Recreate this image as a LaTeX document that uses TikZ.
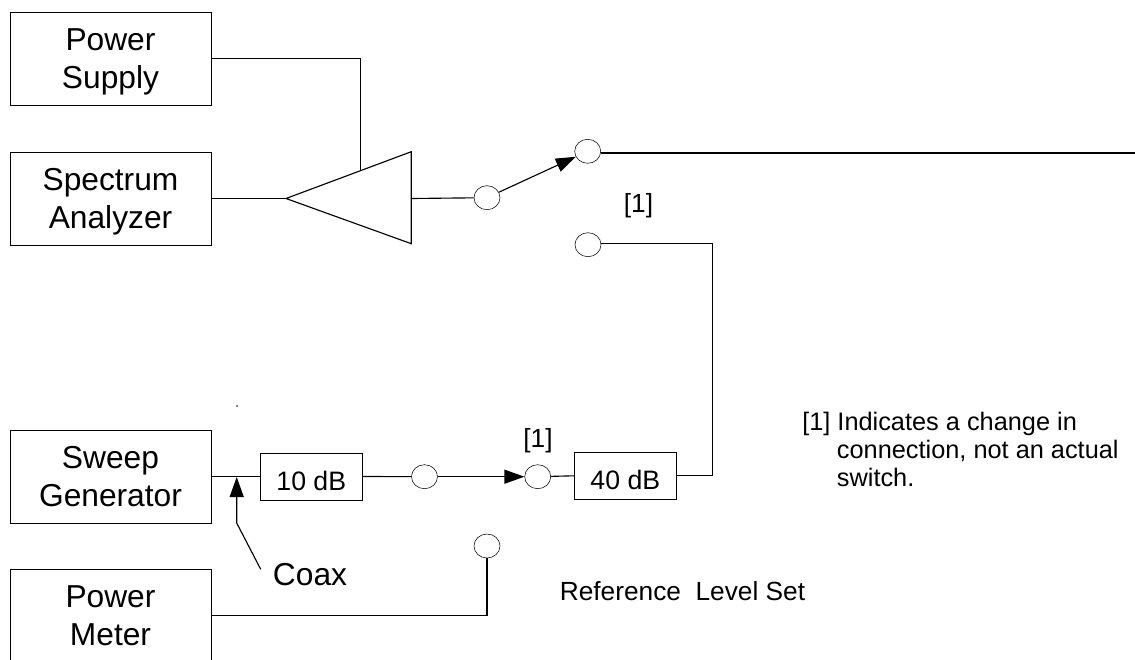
\documentclass[tikz,border=0pt]{standalone}
\usepackage{fontspec}
\setmainfont{Liberation Sans}
\usetikzlibrary{shapes.geometric}
\usetikzlibrary{arrows.meta}
\tikzset{%
    unit/.style={draw,minimum width=150.5pt,minimum height=69.5pt,align=center,font=\fontsize{23.8}{28}\selectfont,inner sep=0pt,text depth=0pt,execute at begin node={\rule{0pt}{24pt}}},
    pad/.style={draw,minimum width=76pt,minimum height=35pt,font=\fontsize{20}{24}\selectfont,inner sep=0pt,text height=21pt,text depth=0pt},
    port/.style={ellipse,draw,fill=white,minimum width=19.5pt,minimum height=18pt,inner sep=0pt},
    lab/.style={font=\fontsize{19.7}{24}\selectfont,inner sep=0pt,anchor=base}
}

\begin{document}
\begin{tikzpicture}[
        x=0.75pt,y=-0.75pt,
        edge/.style={line width=0.85pt},
        tip/.style={-{Triangle[length=15pt,width=10.5pt]}}
        ]
        \useasboundingbox (0,0) rectangle (1135,660);

        \node[unit] (supply) at (110.5,58.5){Power\\Supply};
        \node[unit] (analyzer) at (110.5,198.5){Spectrum\\Analyzer};
        \node[unit] (sweep) at (110.5,476.5){Sweep\\Generator};
        \node[unit] (meter) at (110.5,615.5){Power\\Meter};
        \node[pad] (pad10) at (311.3,476.5){10 dB};
        \node[pad] (pad40) at (625.3,475.8){40 dB};

        \coordinate (tipL) at (286,198.5);
        \coordinate (ampT) at (411.3,151.7);
        \coordinate (ampB) at (411.3,243.7);
        \coordinate (ampO) at (411.3,198.5);
        \coordinate (ampS) at (360.7,170.7);
        \draw[edge] (tipL) -- (ampT) -- (ampB) -- cycle;

        \node[port] (p1) at (487,197.7){};
        \node[port] (p2) at (587.7,151.3){};
        \node[port] (p3) at (588,244.7){};
        \node[port] (p4) at (424.5,476.7){};
        \node[port] (p5) at (537.7,476.7){};
        \node[port] (p6) at (487,546){};

        \coordinate (outR) at (1135,153);
        \coordinate (coaxT) at (236.7,477);
        \coordinate (coaxK) at (236.7,523);
        \coordinate (coaxE) at (260.7,569.3);
        \coordinate (riseB) at (712.7,243.7);

        \draw[edge] (supply.east) -| (ampS);
        \draw[edge] (analyzer.east) -- (tipL);
        \draw[edge] (ampO) -- (p1);
        \draw[edge,tip] (p1) -- (p2);
        \draw[edge] (p2.east |- outR) -- (outR);
        \draw[edge] (p3.east |- riseB) -- (riseB) |- (pad40.east);
        \draw[edge] (sweep.east) -- (pad10.west);
        \draw[edge] (pad10.east) -- (p4);
        \draw[edge,tip] (p4) -- (p5);
        \draw[edge] (p5) -- (pad40.west);
        \draw[edge] (meter.east) -| (p6);
        \draw[edge,tip] (coaxE) -- (coaxK) -- (coaxT);

        \node[lab] (mark1) at (638.5,212.7){[1]};
        \node[lab] (mark2) at (538,447.3){[1]};
        \node[lab,font=\fontsize{23.8}{28}\selectfont] (coax) at (310,585.7){Coax};
        \node[lab] (refset) at (682.5,600){Reference\ \ Level Set};
        \node[lab,anchor=north west,align=left,font=\fontsize{19}{21}\selectfont] (note) at (802,412){[1] Indicates a change in\\
            \hspace*{26pt}connection, not an actual\\
            \hspace*{26pt}switch.};
        \fill (237,406) circle (0.7pt);
    \end{tikzpicture}
\end{document}
